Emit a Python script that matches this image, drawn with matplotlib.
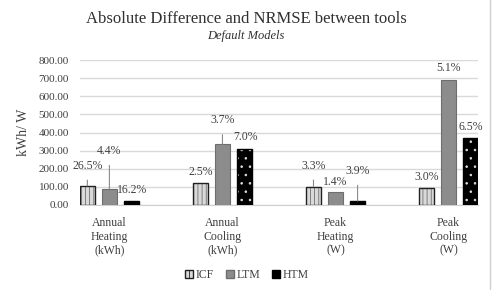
import matplotlib.pyplot as plt
import numpy as np
from matplotlib.lines import Line2D
from matplotlib.patches import Patch

plt.rcParams['font.family'] = ['Liberation Serif', 'DejaVu Serif']
plt.rcParams['hatch.linewidth'] = 0.6

# data
categories = ['Annual\nHeating\n(kWh)', 'Annual\nCooling\n(kWh)', 'Peak\nHeating\n(W)', 'Peak\nCooling\n(W)']
tools = ['ICF', 'LTM', 'HTM']
icf = [106, 123, 101, 92]
ltm = [88, 335, 70, 690]
htm = [22, 309, 22, 371]
icf_pct = ['26.5%', '2.5%', '3.3%', '3.0%']
ltm_pct = ['4.4%', '3.7%', '1.4%', '5.1%']
htm_pct = ['16.2%', '7.0%', '3.9%', '6.5%']

# label offsets in pixels above the bar top, and whether a leader line is drawn
icf_off = [(0, 20, True), (0, 11, False), (0, 21, True), (0, 11, False)]
ltm_off = [(0, 38, True), (0, 24, True), (0, 10, False), (0, 12, False)]
htm_off = [(1, 11, False), (1, 12, False), (0, 30, True), (0, 11, False)]

txt = '#404040'
fig = plt.figure(figsize=(4.97, 2.90), dpi=100)
ax = fig.add_axes([80 / 497, 1 - 205 / 290, 398 / 497, 145 / 290])

x = np.arange(len(categories))
step = 0.195
w = 0.13

# ICF: light grey with vertical hatch
ax.bar(x - step, icf, w, color='#d9d9d9', edgecolor='#707070', hatch='||||', linewidth=0, zorder=3)
ax.bar(x - step, icf, w, fill=False, edgecolor='#202020', linewidth=1.0, zorder=4)
# LTM: solid mid grey
ax.bar(x, ltm, w, color='#8c8c8c', edgecolor='#6e6e6e', linewidth=0.8, zorder=3)
# HTM: black with white dots
ax.bar(x + step, htm, w, color='black', edgecolor='#e0e0e0', hatch='..', linewidth=0, zorder=3)
ax.bar(x + step, htm, w, fill=False, edgecolor='black', linewidth=1.0, zorder=4)

for off_x, vals, pcts, offs in [(-step, icf, icf_pct, icf_off), (0, ltm, ltm_pct, ltm_off), (step, htm, htm_pct, htm_off)]:
    for i in range(len(categories)):
        dx, dy, lead = offs[i]
        ap = dict(arrowstyle='-', color='#8a8a8a', lw=0.8, shrinkA=4, shrinkB=0) if lead else None
        ax.annotate(pcts[i], xy=(x[i] + off_x, vals[i]), xytext=(dx, dy), textcoords='offset pixels',
                    ha='center', va='center', fontsize=8.5, color=txt, arrowprops=ap, zorder=5)

ax.set_xlim(-step - w / 2, 3 + step + w / 2)
ax.set_ylim(0, 800)
ax.set_yticks(np.arange(0, 801, 100))
ax.set_yticklabels(['%.2f' % v for v in np.arange(0, 801, 100)], fontsize=8, color=txt)
ax.set_xticks(x)
ax.set_xticklabels(categories, fontsize=8.5, color=txt, linespacing=1.15)
ax.tick_params(axis='both', length=0)
ax.tick_params(axis='x', pad=9)
ax.tick_params(axis='y', pad=8)
ax.grid(axis='y', color='#d9d9d9', lw=1, zorder=0)
ax.set_axisbelow(True)
for s in ['top', 'right', 'left']:
    ax.spines[s].set_visible(False)
ax.spines['bottom'].set_color('#d0d0d0')

ax.set_ylabel('kWh/ W', fontsize=10, color=txt)
ax.yaxis.set_label_coords(-50 / 398, 0.5)

fig.text(246 / 497, 1 - 19 / 290, 'Absolute Difference and NRMSE between tools', ha='center', va='center',
         fontsize=12, color='#303030')
fig.text(246 / 497, 1 - 36 / 290, 'Default Models', ha='center', va='center', fontsize=9,
         style='italic', color='#303030')

handles = [Patch(facecolor='#d9d9d9', edgecolor='#202020', hatch='||||'),
           Patch(facecolor='#8c8c8c', edgecolor='#6e6e6e'),
           Patch(facecolor='black', edgecolor='black')]
fig.legend(handles, tools, loc='center', bbox_to_anchor=(247 / 497, 1 - 275 / 290), ncol=3, frameon=False,
           fontsize=8.5, handlelength=0.7, handleheight=0.7, handletextpad=0.2, columnspacing=1.0,
           labelcolor=txt)

fig.add_artist(Line2D([490 / 497, 490 / 497], [0, 1], color='#d0d0d0', lw=1))

fig.savefig('out.png', dpi=100)
